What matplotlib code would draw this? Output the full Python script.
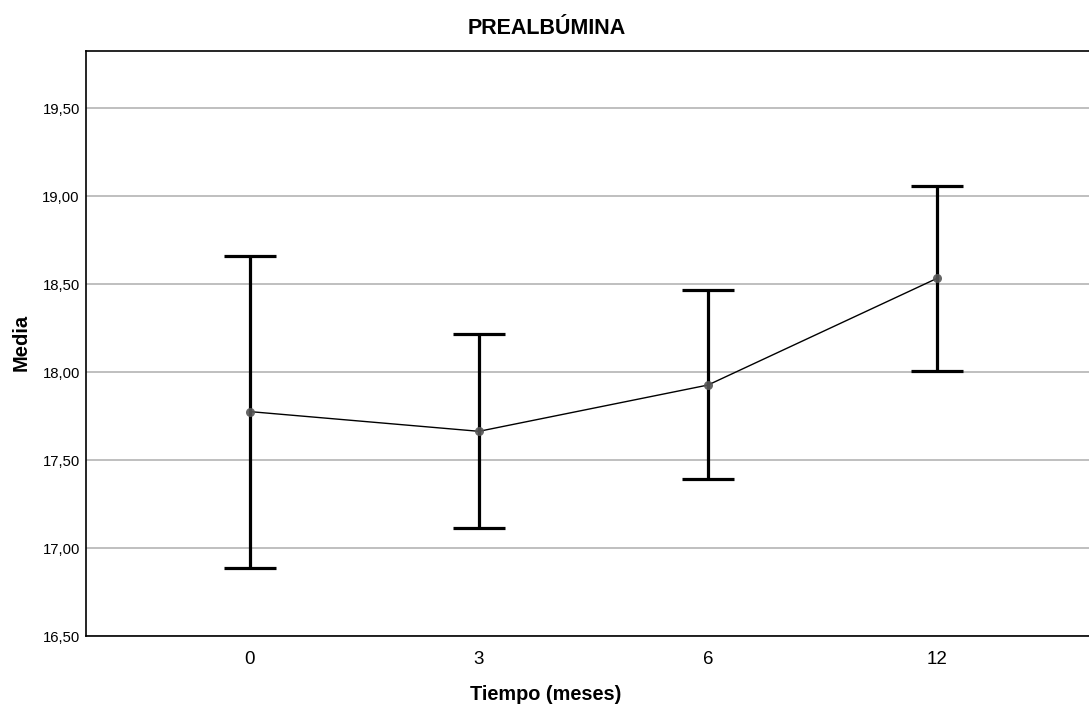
import matplotlib
matplotlib.use("Agg")
import matplotlib.pyplot as plt
from matplotlib.ticker import FuncFormatter

plt.rcParams['font.family'] = ['Liberation Sans', 'DejaVu Sans']

categories = ["0", "3", "6", "12"]
means = [17.775, 17.663, 17.926, 18.532]
upper = [18.659, 18.216, 18.464, 19.055]
lower = [16.889, 17.114, 17.394, 18.004]
yticks = [16.5, 17.0, 17.5, 18.0, 18.5, 19.0, 19.5]

fig = plt.figure(figsize=(10.89, 7.06), dpi=100)
ax = fig.add_axes([86/1089, 1 - 636/706, (1089-86)/1089, (636-51)/706])

x = list(range(len(categories)))
err_lo = [m - l for m, l in zip(means, lower)]
err_hi = [u - m for m, u in zip(means, upper)]

ax.errorbar(x, means, yerr=[err_lo, err_hi], fmt='none', ecolor='black',
            elinewidth=2.3, capsize=18.5, capthick=2.3, zorder=3)
ax.plot(x, means, color='black', linewidth=1.0, zorder=4)
ax.plot(x, means, 'o', color='#555555', markersize=6.5, alpha=0.9, zorder=5,
        markeredgewidth=0)

ax.set_xlim(-0.716, 3.664)
ax.set_ylim(16.5, 19.824)
ax.set_xticks(x)
ax.set_xticklabels(categories, fontsize=13.5)
ax.set_yticks(yticks)
ax.yaxis.set_major_formatter(FuncFormatter(lambda v, p: f"{v:.2f}".replace('.', ',')))
ax.tick_params(axis='y', labelsize=10.7, length=0, pad=4.5)
ax.tick_params(axis='x', length=0, pad=10.5)
ax.grid(axis='y', color='#b4b4b4', linewidth=1.2, zorder=0)
ax.set_axisbelow(True)
ax.spines['right'].set_visible(False)
for s in ['left', 'bottom', 'top']:
    ax.spines[s].set_linewidth(1.2)

ax.set_xlabel("Tiempo (meses)", fontsize=14.3, fontweight='bold')
ax.xaxis.set_label_coords(0.4586, -0.083)
ax.set_ylabel("Media", fontsize=14.5, fontweight='bold')
ax.yaxis.set_label_coords(-0.0548, 0.502)
ax.set_title("PREALBÚMINA", fontsize=15.5, fontweight='bold', pad=12, x=0.4596)

fig.savefig("out.png", dpi=100)
